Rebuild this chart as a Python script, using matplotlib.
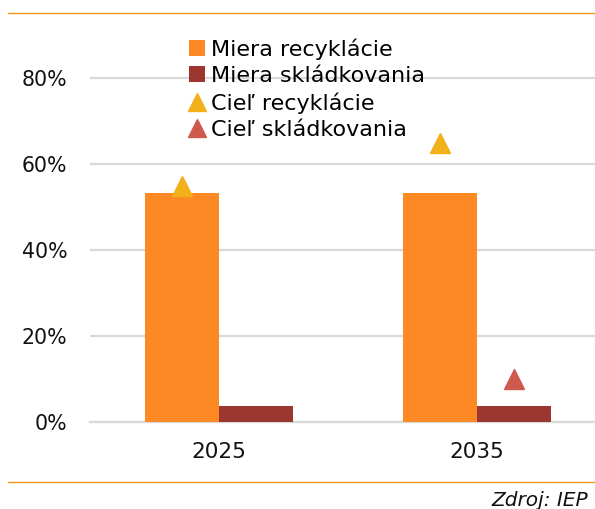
import matplotlib.pyplot as plt
from matplotlib.lines import Line2D
import numpy as np

years = ["2025", "2035"]
miera_recyklacie = [0.533, 0.533]
miera_skladkovania = [0.038, 0.038]
ciel_recyklacie = [0.55, 0.65]          # target for recycling, both years
ciel_skladkovania = [np.nan, 0.10]      # landfill target only for 2035

c_orange = "#FC8923"
c_dark = "#9B3730"
c_yellow = "#F2B01A"
c_red = "#CD5A4D"

plt.rcParams['font.family'] = ['DejaVu Sans']

fig = plt.figure(figsize=(5.95, 5.09), dpi=100)
ax = fig.add_axes([0.151, 0.170, 0.849, 0.761])

x = np.arange(len(years))
w = 0.287
b1 = ax.bar(x - w / 2, miera_recyklacie, w, color=c_orange, label="Miera recyklácie", zorder=2)
b2 = ax.bar(x + w / 2, miera_skladkovania, w, color=c_dark, label="Miera skládkovania", zorder=2)
p1, = ax.plot(x - w / 2, ciel_recyklacie, ls="none", marker="^", ms=14, color=c_yellow,
              label="Cieľ recyklácie", zorder=3)
p2, = ax.plot(x + w / 2, ciel_skladkovania, ls="none", marker="^", ms=14, color=c_red,
              label="Cieľ skládkovania", zorder=3)

ax.set_xlim(-0.5, 1.457)
ax.set_ylim(0, 0.9)
ax.set_yticks([0, 0.2, 0.4, 0.6, 0.8])
ax.set_yticklabels(["0%", "20%", "40%", "60%", "80%"])
ax.set_xticks(x)
ax.set_xticklabels(years, fontsize=15.5)
ax.tick_params(axis="y", length=0, labelsize=14.8, colors="#111111", pad=16)
ax.tick_params(axis="x", length=0, colors="#111111", pad=14)
ax.grid(axis="y", color="#D9D9D9", lw=1.6, zorder=0)
ax.axhline(0, color="#D9D9D9", lw=1.6, clip_on=False, zorder=1)
for s in ax.spines.values():
    s.set_visible(False)

leg = ax.legend(handles=[b1, b2, p1, p2], loc="upper left", bbox_to_anchor=(0.318, 0.925),
                bbox_transform=fig.transFigure, frameon=False, fontsize=16,
                handlelength=0.7, handleheight=0.7, handletextpad=0.3, labelspacing=0.28,
                borderpad=0, borderaxespad=0, numpoints=1, markerscale=0.95)

# orange rules top and bottom
fig.add_artist(Line2D([0.013, 1.0], [1 - 13 / 509, 1 - 13 / 509], color="#F7941D", lw=1))
fig.add_artist(Line2D([0.013, 1.0], [1 - 482 / 509, 1 - 482 / 509], color="#F7941D", lw=1))
fig.text(0.988, 1 - 500 / 509, "Zdroj: IEP", ha="right", va="center", fontsize=14.5,
         style="italic", color="#111111")

fig.savefig("out.png", dpi=100)
